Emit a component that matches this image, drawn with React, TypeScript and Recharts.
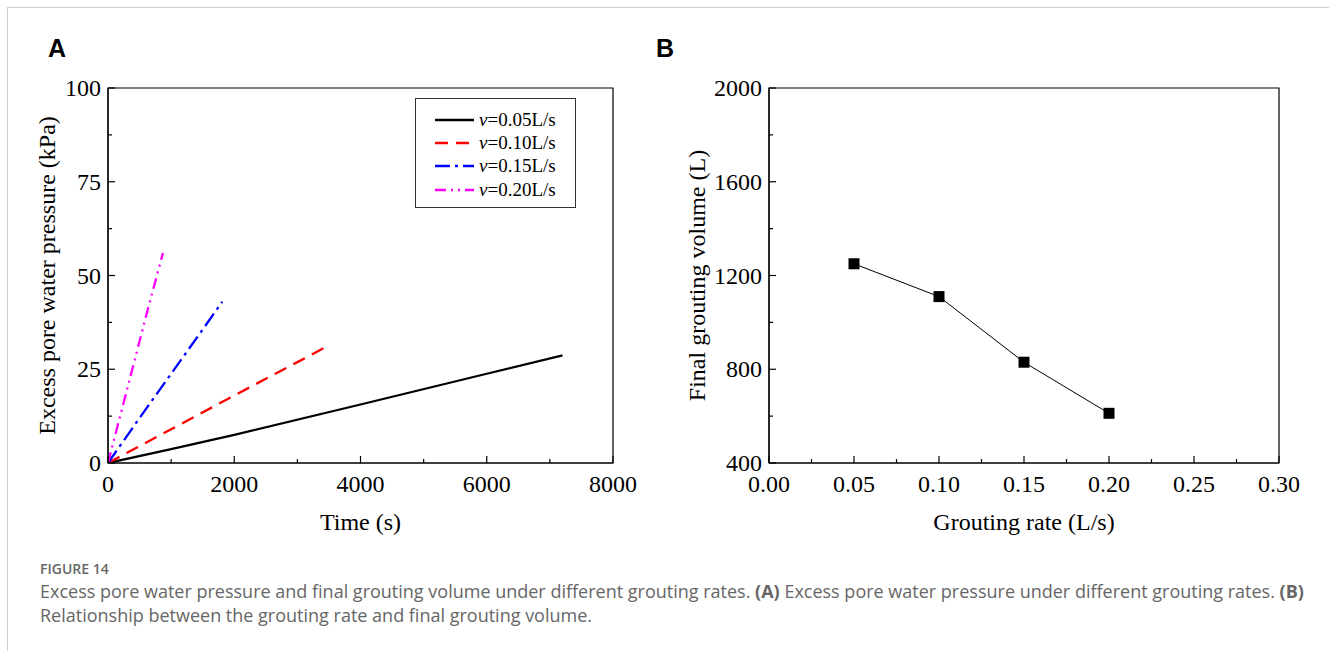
import React from 'react';
import {
  LineChart,
  Line,
  XAxis,
  YAxis,
  ReferenceArea,
  Label,
} from 'recharts';

// panel A: excess pore water pressure vs time
const timeV005 = [0, 1000, 2000, 4000, 6000, 7200];
const pressV005 = [0, 3.7, 7.5, 15.6, 23.8, 28.7];
const timeV010 = [0, 1000, 2000, 3000, 3480];
const pressV010 = [0, 9.0, 18.0, 26.9, 31.2];
const timeV015 = [0, 500, 1000, 1500, 1810];
const pressV015 = [0, 12.0, 23.8, 35.6, 43.0];
const timeV020 = [0, 200, 400, 600, 870];
const pressV020 = [0, 13.0, 26.0, 39.0, 56.0];

const seriesNames = ['v=0.05L/s', 'v=0.10L/s', 'v=0.15L/s', 'v=0.20L/s'];
const seriesColors = ['#000000', '#ff0000', '#0000ff', '#ff00ff'];
const seriesDashes = ['', '13 8', '15 5 3 5', '11 5 2 5 2 5'];

const timeTicks = [0, 1000, 2000, 3000, 4000, 5000, 6000, 7000, 8000];
const pressTicks = [0, 12.5, 25, 37.5, 50, 62.5, 75, 87.5, 100];

// panel B: final grouting volume vs grouting rate
const groutRates = [0.05, 0.1, 0.15, 0.2];
const finalVolumes = [1250, 1110, 830, 612];

const rateTicks = [0, 0.025, 0.05, 0.075, 0.1, 0.125, 0.15, 0.175, 0.2, 0.225, 0.25, 0.275, 0.3];
const volumeTicks = [400, 600, 800, 1000, 1200, 1400, 1600, 1800, 2000];

const SERIF = '"Liberation Serif", "Times New Roman", serif';
const SANS = '"Open Sans", "Noto Sans", sans-serif';

const toPoints = (xs: number[], ys: number[]) => xs.map((x, i) => ({ x, y: ys[i] }));
const seriesA = [
  toPoints(timeV005, pressV005),
  toPoints(timeV010, pressV010),
  toPoints(timeV015, pressV015),
  toPoints(timeV020, pressV020),
];
const dataB = groutRates.map((r, i) => ({ rate: r, volume: finalVolumes[i] }));

const isMajor = (v: number, step: number) => Math.abs(v / step - Math.round(v / step)) < 1e-6;

const xTick = (step: number, fmt: (v: number) => string) => (props: any) => {
  const { x, y, payload } = props;
  const major = isMajor(payload.value, step);
  return (
    <g>
      <line x1={x} x2={x} y1={y} y2={y - (major ? 7 : 4)} stroke="#000" strokeWidth={1.2} />
      {major && (
        <text x={x} y={y + 29} textAnchor="middle" fontFamily={SERIF} fontSize={24} fill="#000">
          {fmt(payload.value)}
        </text>
      )}
    </g>
  );
};

const yTick = (step: number, fmt: (v: number) => string) => (props: any) => {
  const { x, y, payload } = props;
  const major = isMajor(payload.value, step);
  return (
    <g>
      <line x1={x} x2={x + (major ? 7 : 4)} y1={y} y2={y} stroke="#000" strokeWidth={1.2} />
      {major && (
        <text x={x - 7} y={y + 8} textAnchor="end" fontFamily={SERIF} fontSize={24} fill="#000">
          {fmt(payload.value)}
        </text>
      )}
    </g>
  );
};

const xTitle = (text: string) => (props: any) => {
  const vb = props.viewBox;
  return (
    <text x={vb.x + vb.width / 2} y={vb.y + 67} textAnchor="middle" fontFamily={SERIF} fontSize={24} fill="#000">
      {text}
    </text>
  );
};

const yTitle = (text: string, cx: number) => (props: any) => {
  const vb = props.viewBox;
  const cy = vb.y + vb.height / 2;
  return (
    <text
      x={cx}
      y={cy}
      transform={`rotate(-90 ${cx} ${cy})`}
      textAnchor="middle"
      dominantBaseline="central"
      fontFamily={SERIF}
      fontSize={24}
      fill="#000"
    >
      {text}
    </text>
  );
};

const LegendBox = () => (
  <div
    style={{
      position: 'absolute',
      left: 415,
      top: 98,
      border: '1px solid #333',
      width: 161,
      height: 110,
      boxSizing: 'border-box',
      padding: '9px 0 0 19px',
      background: '#fff',
    }}
  >
    {seriesNames.map((name, i) => (
      <div key={name} style={{ display: 'flex', alignItems: 'center', height: 23.3 }}>
        <svg width={40} height={10} style={{ marginRight: 4 }}>
          <line
            x1={0}
            x2={39}
            y1={5}
            y2={5}
            stroke={seriesColors[i]}
            strokeWidth={2.5}
            strokeDasharray={seriesDashes[i] || undefined}
          />
        </svg>
        <span style={{ fontFamily: SERIF, fontSize: 19, color: '#000', lineHeight: '20px' }}>
          <i>v</i>
          {name.slice(1)}
        </span>
      </div>
    ))}
  </div>
);

function PanelA() {
  return (
    <LineChart width={640} height={540} margin={{ top: 88, right: 27, bottom: 0, left: 0 }}>
      <XAxis
        type="number"
        dataKey="x"
        domain={[0, 8000]}
        ticks={timeTicks}
        interval={0}
        tickSize={0}
        tickMargin={0}
        tickLine={false}
        height={77}
        stroke="#000"
        strokeWidth={1.2}
        tick={xTick(2000, (v) => String(v))}
        allowDataOverflow
      >
        <Label content={xTitle('Time (s)')} />
      </XAxis>
      <YAxis
        type="number"
        dataKey="y"
        domain={[0, 100]}
        ticks={pressTicks}
        interval={0}
        tickSize={0}
        tickMargin={0}
        tickLine={false}
        width={108}
        stroke="#000"
        strokeWidth={1.2}
        tick={yTick(25, (v) => String(v))}
        allowDataOverflow
      >
        <Label content={yTitle('Excess pore water pressure (kPa)', 47)} />
      </YAxis>
      <ReferenceArea x1={0} x2={8000} y1={0} y2={100} fill="none" stroke="#000" strokeWidth={1.2} />
      {seriesA.map((pts, i) => (
        <Line
          key={seriesNames[i]}
          data={pts}
          dataKey="y"
          name={seriesNames[i]}
          type="linear"
          stroke={seriesColors[i]}
          strokeWidth={2.3}
          strokeDasharray={seriesDashes[i] || undefined}
          dot={false}
          activeDot={false}
          isAnimationActive={false}
        />
      ))}
    </LineChart>
  );
}

const SquareDot = (props: any) => {
  const { cx, cy } = props;
  if (cx == null || cy == null) return null;
  return <rect x={cx - 5.5} y={cy - 5.5} width={11} height={11} fill="#000" />;
};

function PanelB() {
  return (
    <LineChart width={689} height={540} data={dataB} margin={{ top: 88, right: 50, bottom: 0, left: 0 }}>
      <XAxis
        type="number"
        dataKey="rate"
        domain={[0, 0.3]}
        ticks={rateTicks}
        interval={0}
        tickSize={0}
        tickMargin={0}
        tickLine={false}
        height={77}
        stroke="#000"
        strokeWidth={1.2}
        tick={xTick(0.05, (v) => v.toFixed(2))}
        allowDataOverflow
      >
        <Label content={xTitle('Grouting rate (L/s)')} />
      </XAxis>
      <YAxis
        type="number"
        domain={[400, 2000]}
        ticks={volumeTicks}
        interval={0}
        tickSize={0}
        tickMargin={0}
        tickLine={false}
        width={129}
        stroke="#000"
        strokeWidth={1.2}
        tick={yTick(400, (v) => String(v))}
        allowDataOverflow
      >
        <Label content={yTitle('Final grouting volume (L)', 57)} />
      </YAxis>
      <ReferenceArea x1={0} x2={0.3} y1={400} y2={2000} fill="none" stroke="#000" strokeWidth={1.2} />
      <Line
        dataKey="volume"
        type="linear"
        stroke="#000"
        strokeWidth={1}
        dot={<SquareDot />}
        activeDot={false}
        isAnimationActive={false}
      />
    </LineChart>
  );
}

export default function App() {
  return (
    <div style={{ position: 'absolute', left: 0, top: 0, width: 1329, height: 651, background: '#fff', overflow: 'hidden' }}>
      <div
        style={{
          position: 'absolute',
          left: 7,
          top: 7,
          width: 1330,
          height: 660,
          borderTop: '1px solid #cfcfcf',
          borderLeft: '1px solid #cfcfcf',
        }}
      />
      <div style={{ position: 'absolute', left: 48, top: 34, fontFamily: '"Liberation Sans", Arial, sans-serif', fontWeight: 700, fontSize: 25, color: '#000' }}>
        A
      </div>
      <div style={{ position: 'absolute', left: 656, top: 34, fontFamily: '"Liberation Sans", Arial, sans-serif', fontWeight: 700, fontSize: 25, color: '#000' }}>
        B
      </div>
      <div style={{ position: 'absolute', left: 0, top: 0 }}>
        <PanelA />
        <LegendBox />
      </div>
      <div style={{ position: 'absolute', left: 640, top: 0 }}>
        <PanelB />
      </div>
      <div style={{ position: 'absolute', left: 40, top: 559, fontFamily: SANS, color: '#666' }}>
        <div style={{ fontSize: 14, fontWeight: 600, lineHeight: '20px' }}>FIGURE 14</div>
        <div style={{ fontSize: 18, lineHeight: '24px', whiteSpace: 'nowrap' }}>
          Excess pore water pressure and final grouting volume under different grouting rates. <b>(A)</b> Excess pore
          water pressure under different grouting rates. <b>(B)</b>
        </div>
        <div style={{ fontSize: 18, lineHeight: '24px', whiteSpace: 'nowrap' }}>
          Relationship between the grouting rate and final grouting volume.
        </div>
      </div>
    </div>
  );
}
